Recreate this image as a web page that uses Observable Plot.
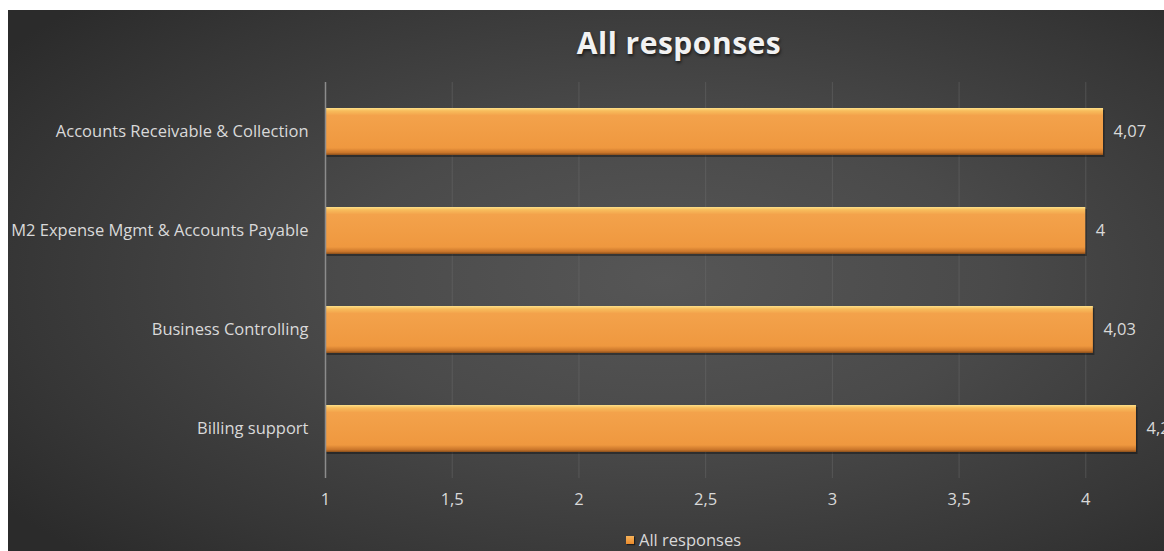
<!DOCTYPE html>
<html>
<head>
<meta charset="utf-8">
<script src="https://cdn.jsdelivr.net/npm/d3@7"></script>
<script src="https://cdn.jsdelivr.net/npm/@observablehq/plot@0.6"></script>
<style>
  html, body { margin: 0; padding: 0; background: #ffffff; overflow: hidden; width: 1164px; height: 551px; }
  #chart {
    position: absolute; left: 8px; top: 10px; width: 1310px; height: 560px;
    background: radial-gradient(ellipse 62% 70% at 50% 48%, #565656 0%, #4a4a4a 40%, #363636 80%, #2b2b2b 100%);
    font-family: "Open Sans", Lato, sans-serif;
  }
  #title {
    position: absolute; left: 561px; top: 12px; width: 220px; text-align: center;
    font-size: 30px; font-weight: bold; color: #f2f2f2; letter-spacing: 0.5px;
    text-shadow: 1px 2px 3px rgba(0,0,0,0.6);
  }
  #plot { position: absolute; left: 0; top: 62px; }
  #legend {
    position: absolute; left: 618px; top: 518px; font-size: 16.5px; color: #d9d9d9;
    display: flex; align-items: center; gap: 5px;
  }
  #legend .sw { width: 8px; height: 8px; background: linear-gradient(#f7b35a, #e98a2c); box-shadow: 1px 1px 1px rgba(0,0,0,0.5); }
</style>
</head>
<body>
<div id="chart">
  <div id="title">All responses</div>
  <div id="plot"></div>
  <div id="legend"><span class="sw"></span><span>All responses</span></div>
</div>
<script>
const categories = ["Accounts Receivable & Collection", "M2 Expense Mgmt & Accounts Payable", "Business Controlling", "Billing support"];
const values = [4.07, 4.0, 4.03, 4.2];
const xTicks = [1, 1.5, 2, 2.5, 3, 3.5, 4];
const seriesName = "All responses";

const data = categories.map((c, i) => ({category: c, value: values[i], series: seriesName}));
const fmt = v => String(v).replace(".", ",");

const plot = Plot.plot({
  width: 1310,
  height: 460,
  marginLeft: 317,
  marginRight: 106,
  marginTop: 10,
  marginBottom: 54,
  style: {background: "transparent", color: "#d9d9d9", fontFamily: "'Open Sans', Lato, sans-serif", fontSize: "16px"},
  x: {domain: [1, 4.5], ticks: xTicks, tickFormat: fmt},
  y: {domain: categories, paddingInner: 0.525, paddingOuter: 0.2625},
  marks: [
    Plot.gridX(xTicks.slice(1).concat([4.5]), {stroke: "#6e6e6e", strokeOpacity: 0.45, strokeWidth: 1}),
    Plot.axisX({ticks: xTicks, tickFormat: fmt, tickSize: 0, tickPadding: 15, fontSize: 16.5, fill: "#d9d9d9", label: null}),
    Plot.axisY({tickSize: 0, tickPadding: 17, fontSize: 16.5, fill: "#d9d9d9", label: null}),
    // shadow
    Plot.barX(data, {x1: 1, x2: "value", y: "category", fill: "#000", fillOpacity: 0.35, dx: 1.5, dy: 2}),
    Plot.barX(data, {x1: 1, x2: "value", y: "category", fill: "url(#barGrad)"}),
    Plot.ruleX([1], {stroke: "#8c8c8c", strokeWidth: 1.5}),
    Plot.text(data, {x: "value", y: "category", text: d => fmt(d.value), textAnchor: "start", dx: 10, fill: "#d9d9d9", fontSize: 16.5})
  ]
});

// gradient defs for the bevelled bars
const ns = "http://www.w3.org/2000/svg";
const defs = document.createElementNS(ns, "defs");
defs.innerHTML = `
  <linearGradient id="barGrad" x1="0" y1="0" x2="0" y2="1">
    <stop offset="0" stop-color="#fde08a"/>
    <stop offset="0.06" stop-color="#f8bd5c"/>
    <stop offset="0.16" stop-color="#f3a24b"/>
    <stop offset="0.85" stop-color="#ef983f"/>
    <stop offset="0.95" stop-color="#c9752a"/>
    <stop offset="1" stop-color="#8a4f1c"/>
  </linearGradient>`;
plot.insertBefore(defs, plot.firstChild);
document.getElementById("plot").appendChild(plot);
</script>
</body>
</html>
